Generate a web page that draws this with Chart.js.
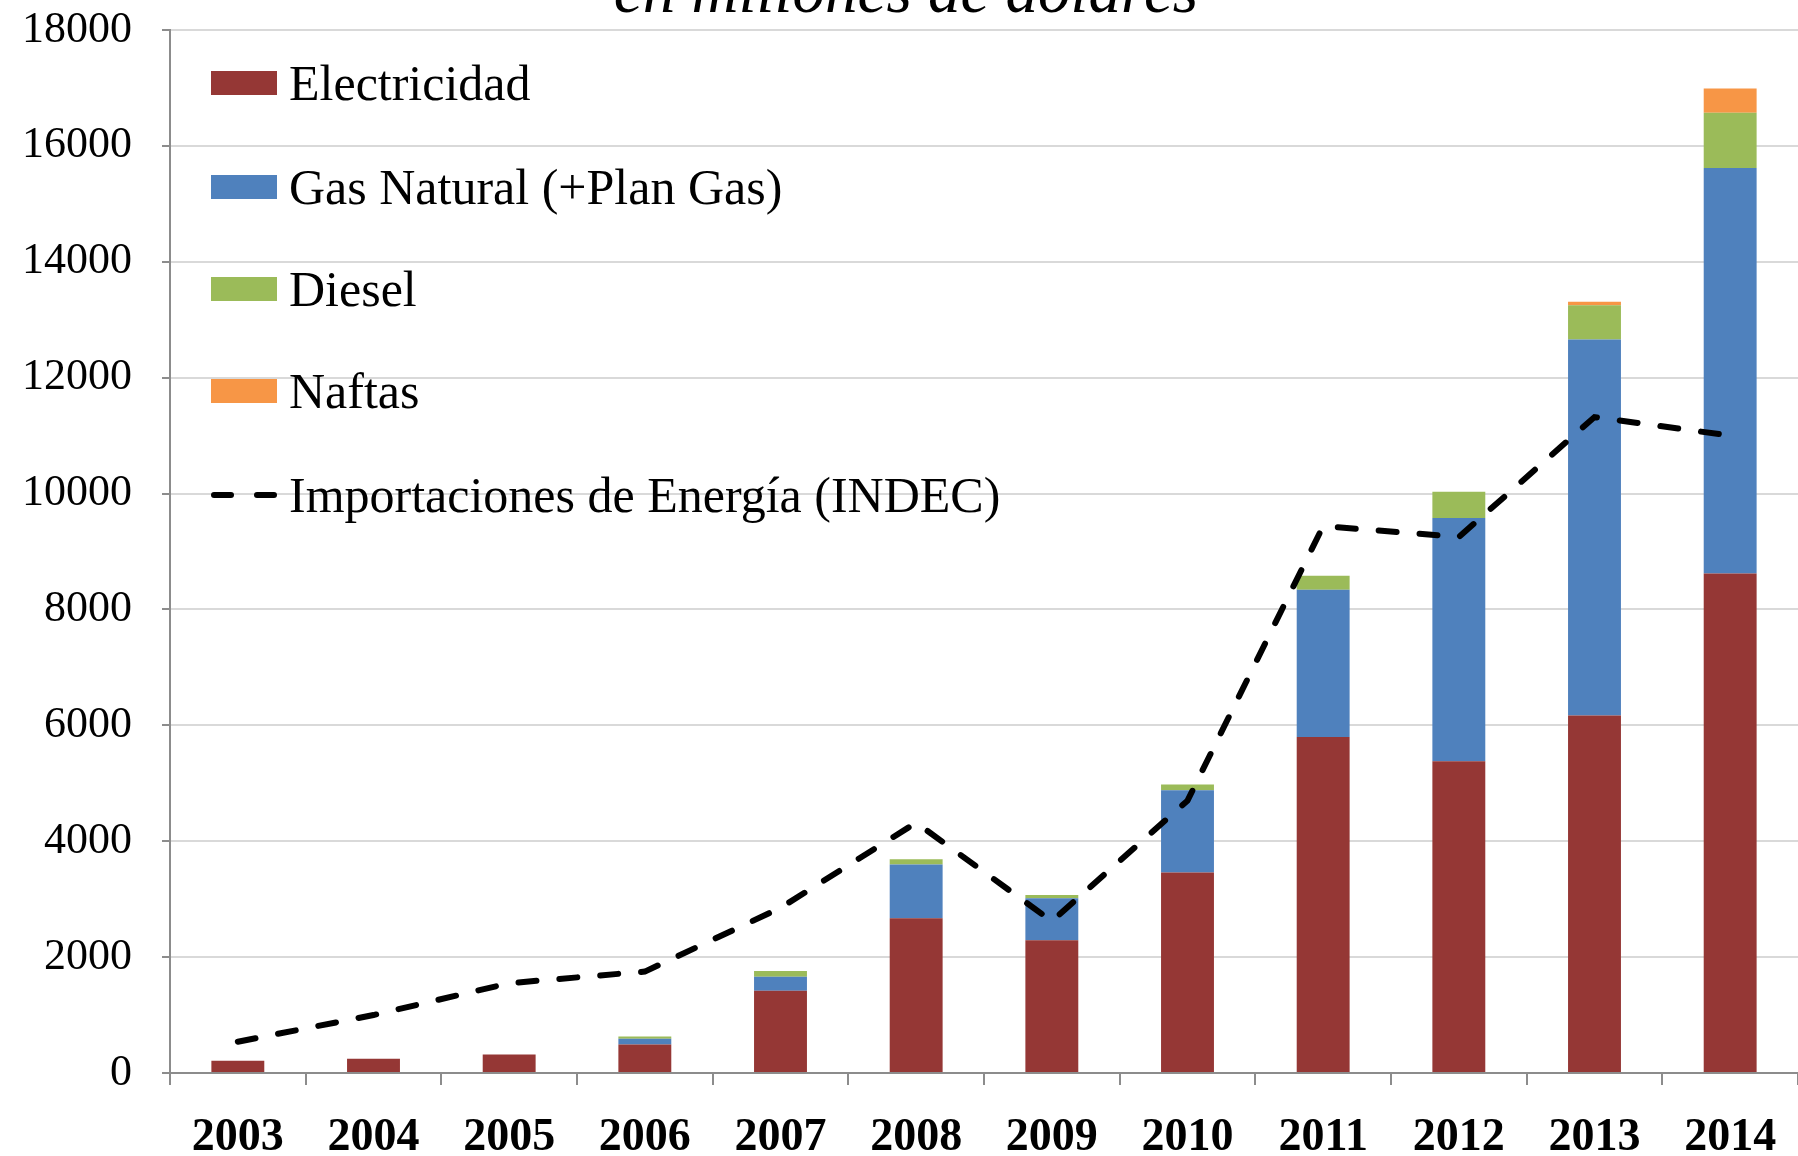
<!DOCTYPE html>
<html>
<head>
<meta charset="utf-8">
<script src="https://cdn.jsdelivr.net/npm/chart.js@4.4.0/dist/chart.umd.min.js"></script>
<style>
  html, body { margin: 0; padding: 0; background: #fff; overflow: hidden; }
  #wrap { position: relative; width: 1798px; height: 1156px; }
  #title { position: absolute; left: 0; width: 1812px; top: -42px; text-align: center;
           font: italic 65px "Liberation Serif", serif; line-height: 65px; color: #000; }
  #legend { position: absolute; left: 211px; top: 0; font: 50px "Liberation Serif", serif; color: #000; }
  .item { position: absolute; left: 0; height: 50px; display: flex; align-items: center; white-space: nowrap; }
  .swatch { width: 66px; height: 24px; margin-right: 12px; }
  .dashes { width: 66px; height: 6px; margin-right: 12px; position: relative; }
  .dashes span { position: absolute; top: 0; width: 23px; height: 6px; background: #000; border-radius: 3px; }
</style>
</head>
<body>
<div id="wrap">
  <canvas id="chart" width="1798" height="1156"></canvas>
  <div id="title">en millones de dólares</div>
  <div id="legend"></div>
</div>
<script>
// values in millones de dólares
const years = ["2003", "2004", "2005", "2006", "2007", "2008", "2009", "2010", "2011", "2012", "2013", "2014"];
const electricidad = [210, 245, 320, 490, 1420, 2670, 2290, 3460, 5800, 5380, 6170, 8620];
const gasNatural = [0, 0, 0, 100, 242, 930, 725, 1420, 2540, 4200, 6490, 7000];
const diesel = [0, 0, 0, 40, 100, 90, 57, 100, 240, 450, 590, 950];
const naftas = [0, 0, 0, 0, 0, 0, 0, 0, 0, 0, 60, 420];
const importaciones = [540, 1000, 1550, 1750, 2850, 4320, 2620, 4700, 9440, 9250, 11320, 11000];
const yTicks = [0, 2000, 4000, 6000, 8000, 10000, 12000, 14000, 16000, 18000];

const barSeries = [
  { label: "Electricidad", data: electricidad, color: "#953735" },
  { label: "Gas Natural (+Plan Gas)", data: gasNatural, color: "#4F81BD" },
  { label: "Diesel", data: diesel, color: "#9BBB59" },
  { label: "Naftas", data: naftas, color: "#F79646" },
];

const datasets = barSeries.map(function (s) {
  return {
    type: "bar",
    label: s.label,
    data: s.data,
    backgroundColor: s.color,
    stack: "bars",
    order: 1,
    categoryPercentage: 1,
    barPercentage: 0.39,
  };
});
datasets.push({
  type: "line",
  label: "Importaciones de Energía (INDEC)",
  data: importaciones,
  borderColor: "#000",
  borderWidth: 6,
  borderDash: [18, 23],
  borderCapStyle: "round",
  pointRadius: 0,
  tension: 0,
  fill: false,
  stack: "line",
  order: 0,
});

const canvas = document.querySelector("#chart");
const chart = new Chart(canvas.getContext("2d"), {
  data: { labels: years, datasets: datasets },
  options: {
    responsive: false,
    animation: false,
    layout: { padding: { top: 30, left: 0, right: 0, bottom: 0 } },
    scales: {
      x: {
        stacked: true,
        offset: true,
        grid: {
          offset: true,
          drawOnChartArea: false,
          drawTicks: true,
          tickLength: 12,
          tickColor: "#8c8c8c",
          lineWidth: 2,
        },
        border: { color: "#8c8c8c", width: 2 },
        ticks: {
          color: "#000",
          padding: 26,
          font: { family: "Liberation Serif", size: 46, weight: "bold" },
          maxRotation: 0,
        },
        afterFit: function (scale) {
          scale.height = 83;
          scale.paddingLeft = 0;
          scale.paddingRight = 0;
        },
      },
      y: {
        stacked: true,
        min: 0,
        max: 18000,
        afterBuildTicks: function (scale) {
          scale.ticks = yTicks.map(function (v) { return { value: v }; });
        },
        grid: {
          color: "#d9d9d9",
          lineWidth: 2,
          tickLength: 8,
          tickColor: "#8c8c8c",
        },
        border: { color: "#8c8c8c", width: 2 },
        ticks: {
          color: "#000",
          padding: 30,
          font: { family: "Liberation Serif", size: 44 },
          callback: function (value) { return String(value); },
        },
        afterFit: function (scale) {
          scale.width = 170;
          scale.paddingTop = 0;
          scale.paddingBottom = 0;
        },
      },
    },
    plugins: {
      legend: { display: false },
      tooltip: { enabled: false },
      title: { display: false },
    },
  },
});

// legend drawn as html, items taken from the datasets
const legendTops = [83, 187, 289, 391, 495];
const legend = document.querySelector("#legend");
chart.data.datasets.forEach(function (ds, i) {
  const item = document.createElement("div");
  item.className = "item";
  item.style.top = (legendTops[i] - 25) + "px";
  let mark;
  if (ds.type === "line") {
    mark = document.createElement("div");
    mark.className = "dashes";
    mark.innerHTML = '<span style="left:0"></span><span style="left:43px"></span>';
  } else {
    mark = document.createElement("div");
    mark.className = "swatch";
    mark.style.background = ds.backgroundColor;
  }
  item.appendChild(mark);
  item.appendChild(document.createTextNode(ds.label));
  legend.appendChild(item);
});
</script>
</body>
</html>
